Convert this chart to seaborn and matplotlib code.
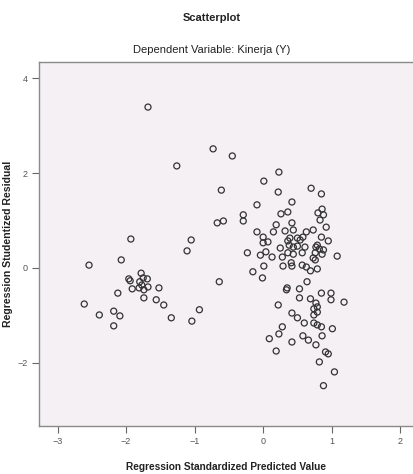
import numpy as np
import pandas as pd
import matplotlib
matplotlib.use("Agg")
import matplotlib.pyplot as plt
import seaborn as sns

# Data
pred = [
    -2.61, -2.54, -2.39, -2.18, -2.09, -2.18, -2.12, -2.07, -1.93, -1.96,
    -1.94, -1.91, -1.78, -1.75, -1.69, -1.80, -1.77, -1.81, -1.68, -1.74,
    -1.52, -1.74, -1.56, -1.45, -1.34, -1.04, -0.93, -1.11, -1.05, -1.68,
    -1.26, -0.73, -0.45, -0.61, -0.67, -0.58, -0.64, -0.29, -0.29, -0.09,
    -0.09, -0.23, -0.15, -0.01, 0.01, -0.04, 0.01, 0.00, 0.00, 0.07,
    0.04, 0.23, 0.22, 0.70, 0.85, 0.42, 0.26, 0.36, 0.86, 0.80,
    0.88, 0.83, 0.92, 0.19, 0.42, 0.15, 0.32, 0.44, 0.73, 0.63,
    0.85, 0.95, 0.39, 0.50, 0.58, 0.36, 0.54, 0.77, 0.82, 0.88,
    0.25, 0.44, 0.61, 0.13, 0.28, 0.36, 0.44, 0.57, 0.76, 0.86,
    1.08, 0.29, 0.41, 0.42, 0.57, 0.63, 0.69, 0.76, 0.79, 0.64,
    0.35, 0.34, 0.53, 0.53, 0.69, 0.85, 0.99, 0.99, 1.18, 0.77,
    0.79, 0.79, 0.74, 0.22, 0.42, 0.50, 0.60, 0.74, 0.74, 0.79,
    0.28, 0.85, 1.01, 0.23, 0.09, 0.58, 0.66, 0.86, 0.42, 0.77,
    0.19, 0.91, 0.95, 0.82, 1.04, 0.88, 0.50, 0.38, 0.79, 0.73,
]
resid = [
    -0.76, 0.06, -0.99, -0.91, -1.01, -1.22, -0.53, 0.17, 0.61, -0.23,
    -0.27, -0.44, -0.11, -0.21, -0.23, -0.29, -0.36, -0.42, -0.40, -0.46,
    -0.42, -0.63, -0.67, -0.78, -1.05, -1.12, -0.88, 0.36, 0.59, 3.39,
    2.15, 2.51, 2.36, 1.64, 0.95, 0.99, -0.29, 1.12, 0.99, 1.33,
    0.76, 0.32, -0.08, -0.21, 0.04, 0.27, 1.83, 0.65, 0.53, 0.55,
    0.34, 2.02, 1.60, 1.68, 1.56, 1.39, 1.14, 1.18, 1.24, 1.16,
    1.12, 1.01, 0.86, 0.91, 0.95, 0.76, 0.78, 0.80, 0.80, 0.76,
    0.65, 0.57, 0.63, 0.63, 0.65, 0.57, 0.59, 0.44, 0.40, 0.38,
    0.42, 0.44, 0.44, 0.23, 0.23, 0.32, 0.29, 0.32, 0.32, 0.29,
    0.25, 0.04, 0.11, 0.04, 0.06, 0.02, -0.06, 0.17, -0.02, -0.29,
    -0.42, -0.46, -0.44, -0.63, -0.65, -0.53, -0.53, -0.67, -0.72, -0.74,
    -0.82, -0.93, -0.86, -0.78, -0.95, -1.05, -1.16, -0.99, -1.16, -1.20,
    -1.24, -1.24, -1.28, -1.39, -1.49, -1.43, -1.52, -1.43, -1.56, -1.62,
    -1.75, -1.77, -1.81, -1.98, -2.19, -2.48, 0.46, 0.48, 0.48, 0.21,
]

x_ticks = [-3, -2, -1, 0, 1, 2]
y_ticks = [-2, 0, 2, 4]

df = pd.DataFrame({"pred": pred, "resid": resid})

sns.set_style("white")
plt.rcParams["font.family"] = ["Liberation Sans", "DejaVu Sans"]

fig = plt.figure(figsize=(4.14, 4.74), dpi=100)
ax = fig.add_axes([39 / 414, 48 / 474, 377 / 414, 364 / 474])
ax.set_facecolor("#f4f0f4")

sns.scatterplot(data=df, x="pred", y="resid", ax=ax, marker="o", s=19,
                facecolor="none", edgecolor="#333333", linewidth=0.9)

ax.set_xlim(-3.27, 2.23)
ax.set_ylim(-3.33, 4.34)
ax.set_xticks(x_ticks)
ax.set_yticks(y_ticks)
ax.tick_params(axis="both", direction="out", length=5, width=0.8, color="#666666",
               labelsize=6.5, labelcolor="#555555", pad=3, bottom=True, left=True)

for side in ["left", "bottom", "top"]:
    ax.spines[side].set_color("#8a8a8a")
    ax.spines[side].set_linewidth(1.0)
ax.spines["right"].set_visible(False)

ax.set_xlabel("Regression Standardized Predicted Value", fontsize=7.3, fontweight="bold",
              color="#222222")
ax.xaxis.set_label_coords((226 - 39) / 377, -(462 - 426) / 364)
ax.set_ylabel("Regression Studentized Residual", fontsize=7.6, fontweight="bold",
              color="#222222")
ax.yaxis.set_label_coords(-(39 - 13) / 377, (426 - 244) / 364)

fig.text(0.512, 0.962, "Scatterplot", ha="center", va="center", fontsize=8,
         fontweight="bold", color="#222222")
fig.text(0.512, 0.895, "Dependent Variable: Kinerja (Y)", ha="center", va="center",
         fontsize=8, color="#222222")

fig.savefig("out.png", dpi=100)
